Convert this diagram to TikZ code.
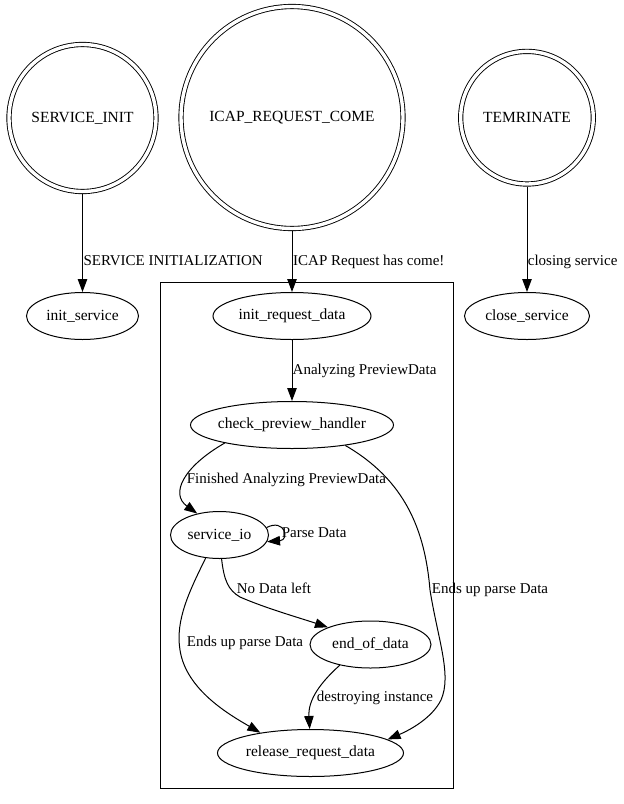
\documentclass[tikz,border=0pt]{standalone}
\usepackage{fontspec}
\setmainfont{Liberation Serif}
\usetikzlibrary{arrows.meta,shapes.geometric}

% node and edge label fonts
\newcommand\nodefont{\fontsize{15.5}{18}\selectfont}
\newcommand\edgefont{\fontsize{15}{18}\selectfont}
% zero-width label so the shape size is set only by minimum width/height
\newcommand\nm[1]{\makebox[0pt]{#1}}

\tikzset{
  state/.style={ellipse, draw, line width=1pt, inner sep=0pt,
    minimum height=47pt, font=\nodefont},
  final/.style={circle, draw, line width=0.9pt, double, double distance=3.4pt,
    inner sep=0pt, outer sep=2.6pt, font=\nodefont},
  lbl/.style={anchor=base west, inner sep=0pt, font=\edgefont},
  edge/.style={draw, line width=1pt, -{Triangle[length=13pt,width=9.5pt]}},
  cluster/.style={draw, line width=1pt}
}

\begin{document}
\begin{tikzpicture}[x=1pt,y=-1pt]
\useasboundingbox (0,0) rectangle (624,804);

% start states
\node[final, minimum size=147pt] (si)   at (82.5,118)  {\nm{SERVICE\_INIT}};
\node[final, minimum size=222pt] (icap) at (292,117.5) {\nm{ICAP\_REQUEST\_COME}};
\node[final, minimum size=132.6pt] (term) at (527,117.7) {\nm{TEMRINATE}};

% top-level states
\node[state, minimum width=112pt] (is)  at (82.5,316) {\nm{init\_service}};
\node[state, minimum width=158pt] (ird) at (292,316)  {\nm{init\_request\_data}};
\node[state, minimum width=125pt] (cs)  at (527,316)  {\nm{close\_service}};

% request handling cluster
\draw[cluster] (160.5,282) rectangle (453.3,788);
\node[state, minimum width=203pt] (cph) at (292,425)    {\nm{check\_preview\_handler}};
\node[state, minimum width=98pt]  (sio) at (219.5,535)  {\nm{service\_io}};
\node[state, minimum width=121pt] (eod) at (370.5,644.5){\nm{end\_of\_data}};
\node[state, minimum width=186pt] (rrd) at (310.5,753)  {\nm{release\_request\_data}};

% transitions
\draw[edge] (si) -- (is);
\draw[edge] (icap) -- (ird);
\draw[edge] (term) -- (cs);
\draw[edge] (ird) -- (cph);
\draw[edge] (cph.195) .. controls (183,467) and (170,494) .. (sio.136);
\draw[edge] (sio.9) .. controls (285,518) and (290,540) .. (sio.-8);
\draw[edge] (sio.275) .. controls (224,580) and (228,590) .. (240,597)
            .. controls (265,608) and (300,618) .. (eod.158);
\draw[edge] (sio.239) .. controls (190,590) and (175,620) .. (180,650)
            .. controls (186,690) and (230,715) .. (rrd.158);
\draw[edge] (eod.214) .. controls (320,683) and (308,700) .. (rrd.92);
\draw[edge] (cph.339) .. controls (405,480) and (425,530) .. (430,590)
            .. controls (438,640) and (452,675) .. (441,700)
            .. controls (432,718) and (410,730) .. (rrd.10);

% transition labels
\node[lbl] (l1)  at (83.3,265.7)  {SERVICE INITIALIZATION};
\node[lbl] (l2)  at (293,265.7)   {ICAP Request has come!};
\node[lbl] (l3)  at (527.7,265.7) {closing service};
\node[lbl] (l4)  at (292.5,374)   {Analyzing PreviewData};
\node[lbl] (l5)  at (186.7,483.3) {Finished Analyzing PreviewData};
\node[lbl] (l6)  at (281.7,537.7) {Parse Data};
\node[lbl] (l7)  at (236.7,593.3) {No Data left};
\node[lbl] (l8)  at (186.7,646.7) {Ends up parse Data};
\node[lbl] (l9)  at (431.7,593.3) {Ends up parse Data};
\node[lbl] (l10) at (316.7,701.7) {destroying instance};
\end{tikzpicture}
\end{document}
